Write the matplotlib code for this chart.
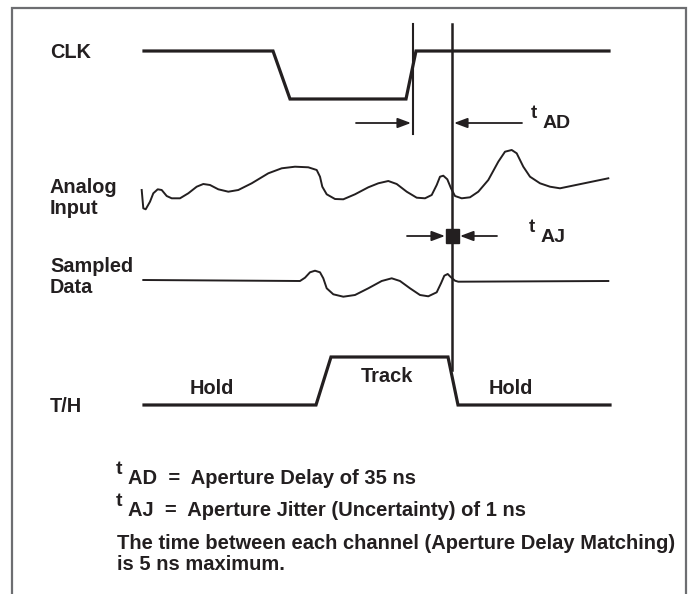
import matplotlib.pyplot as plt
from matplotlib.patches import Rectangle

# waveform vertices (pixel coordinates, y grows down)
clk_x = [144, 273, 290, 406, 416, 609]
clk_y = [51, 51, 99, 99, 51, 51]

th_x = [144, 316, 331, 448, 458, 610]
th_y = [405, 405, 357, 357, 405, 405]

analog_x = [141.7, 143.3, 145.7, 150, 153.3, 157.7, 161.7, 166.7, 171.7, 180,
            188.3, 196.7, 203.3, 210, 218.3, 228.3, 238.3, 251.7, 268.3, 281.7,
            295, 308.3, 316.7, 320, 322.3, 326.7, 335, 343.3, 355, 368.3,
            378.3, 388.3, 396.7, 406.7, 416.7, 425, 431.7, 436.7, 440, 443.3,
            447.3, 451, 455, 461.7, 470, 478.3, 488.3, 498.3, 505, 511.7,
            516.7, 523.3, 530, 540, 550, 560, 608.3]
analog_y = [190, 208.3, 209.3, 201.7, 193.3, 189.3, 190, 196, 198.3, 198.3,
            193.3, 186.7, 184, 185, 189.3, 191.7, 190, 183.3, 173.3, 168.3,
            166.7, 167.3, 170, 176.7, 186.7, 194.3, 199, 199.3, 194.3, 187.3,
            183.3, 181, 184, 191.7, 197.7, 198.3, 195, 185, 176.7, 175.7,
            179.3, 188.3, 196, 198.3, 197.3, 191.7, 180, 161.7, 151.7, 150,
            153.3, 166.7, 176.7, 183.3, 186.7, 188.3, 178.3]

sampled_x = [143.3, 300, 305, 310, 315, 320, 323.3, 326.7, 333.3, 343.3,
             355, 368.3, 381.7, 391.7, 400, 410, 420, 428.3, 436.7, 441,
             444.3, 447.7, 451, 455, 458.3, 608.3]
sampled_y = [280, 281, 277.7, 272.3, 270.7, 272.3, 278.3, 288.3, 294.3, 296.7,
             295, 288.3, 281, 278.3, 281, 288.3, 295, 296.3, 292.3, 283.3,
             275.7, 274, 277.3, 280.7, 281.7, 281]

signal_names = ['CLK', 'Analog\nInput', 'Sampled\nData', 'T/H']
signal_label_y = [52, 198, 277, 406]

notes = ['AD  =  Aperture Delay of 35 ns',
         'AJ  =  Aperture Jitter (Uncertainty) of 1 ns']
footer = 'The time between each channel (Aperture Delay Matching)\nis 5 ns maximum.'

FONT = ['Liberation Sans', 'DejaVu Sans']
ink = '#231f20'

fig = plt.figure(figsize=(6.94, 5.94), dpi=100)
ax = fig.add_axes([0, 0, 1, 1])
ax.set_xlim(0, 694)
ax.set_ylim(594, 0)
ax.axis('off')

# frame (open at the bottom)
ax.plot([12, 12, 686, 686], [594, 8, 8, 594], color='#6d6e71', lw=1.6,
        solid_joinstyle='miter')

ax.plot(clk_x, clk_y, color=ink, lw=2.3, solid_joinstyle='miter')
ax.plot(th_x, th_y, color=ink, lw=2.3, solid_joinstyle='miter')
ax.plot(analog_x, analog_y, color=ink, lw=1.4, solid_joinstyle='round')
ax.plot(sampled_x, sampled_y, color=ink, lw=1.4, solid_joinstyle='round')

# clock edge and sampling instant
ax.plot([413, 413], [24, 134], color=ink, lw=1.5)
ax.plot([452, 452], [24, 370], color=ink, lw=1.8)

arrow = dict(arrowstyle='-|>,head_length=0.8,head_width=0.3', color=ink, lw=1.3,
             shrinkA=0, shrinkB=0)
ax.annotate('', xy=(411, 123), xytext=(356, 123), arrowprops=arrow)
ax.annotate('', xy=(454, 123), xytext=(522, 123), arrowprops=arrow)
ax.annotate('', xy=(445, 236), xytext=(407, 236), arrowprops=arrow)
ax.annotate('', xy=(460, 236), xytext=(497, 236), arrowprops=arrow)
ax.add_patch(Rectangle((446, 229), 13, 14, color=ink))

bold = dict(family=FONT, weight='bold', color=ink)

for name, y in zip(signal_names, signal_label_y):
    ax.text(50, y, name, fontsize=14.3, va='center', ha='left',
            linespacing=1.08, **bold)

ax.text(531, 113, 't', fontsize=13.5, va='center', ha='left', **bold)
ax.text(543, 124, 'AD', fontsize=14, va='center', ha='left', **bold)
ax.text(529, 227, 't', fontsize=13.5, va='center', ha='left', **bold)
ax.text(541, 238, 'AJ', fontsize=14, va='center', ha='left', **bold)

ax.text(212, 389, 'Hold', fontsize=14.4, va='center', ha='center', **bold)
ax.text(387, 376, 'Track', fontsize=14.4, va='center', ha='center', **bold)
ax.text(511, 388, 'Hold', fontsize=14.4, va='center', ha='center', **bold)

for i, note in enumerate(notes):
    y = 479 + i * 32
    ax.text(116, y - 10, 't', fontsize=14, va='center', ha='left', **bold)
    ax.text(128, y, note, fontsize=14.5, va='center', ha='left', **bold)

ax.text(117, 554, footer, fontsize=14.5, va='center', ha='left',
        linespacing=1.1, **bold)

fig.savefig('out.png', dpi=100)
